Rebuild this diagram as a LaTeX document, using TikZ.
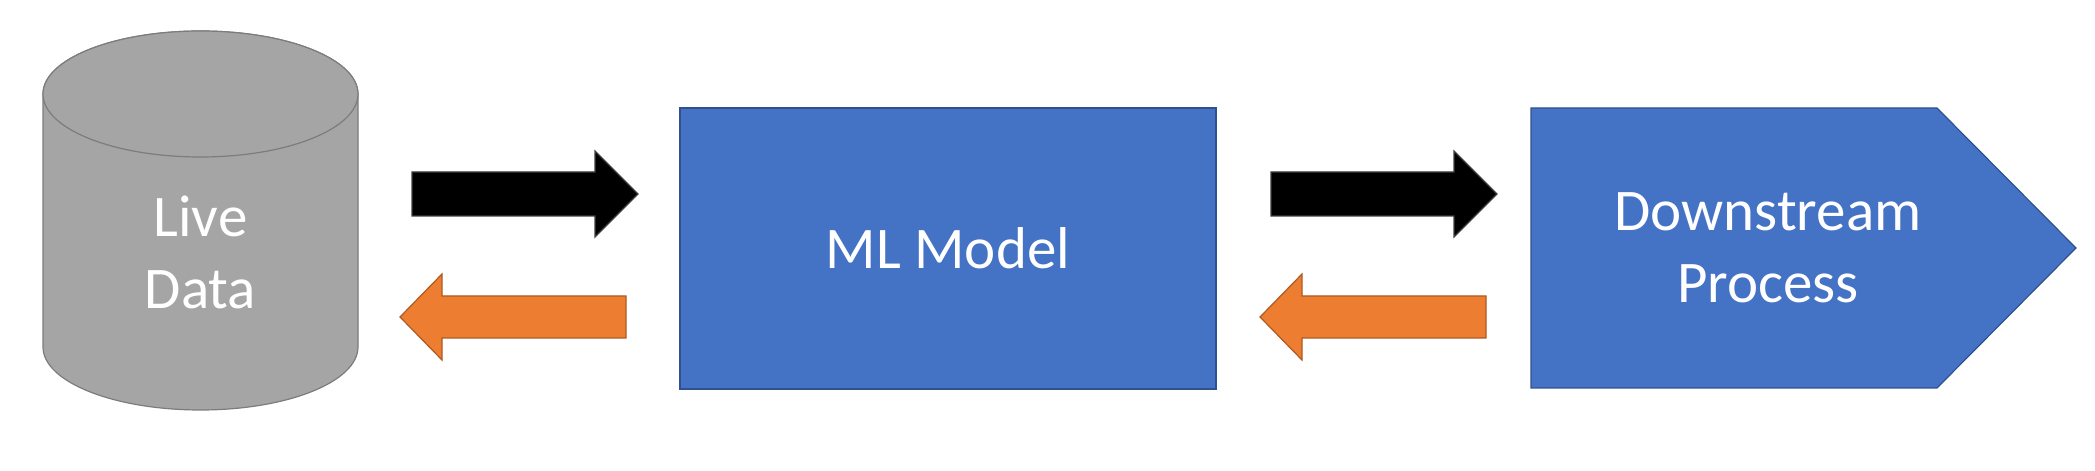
\documentclass[tikz,border=0pt]{standalone}
\usepackage{fontspec}
\setmainfont{Carlito}
\usetikzlibrary{positioning}
\definecolor{storefill}{HTML}{A5A5A5}
\definecolor{storeline}{HTML}{7C7C7C}
\definecolor{modelfill}{HTML}{4472C4}
\definecolor{modelline}{HTML}{2F528F}
\definecolor{backfill}{HTML}{ED7D31}
\definecolor{backline}{HTML}{AE5A21}

\begin{document}
\begin{tikzpicture}[
    x=0.5pt, y=0.5pt,
    boxtext/.style={text=white, font=\fontsize{29.5}{36}\selectfont, align=center},
    store/.style={draw=storeline, fill=storefill, line width=0.6pt},
    model/.style={draw=modelline, fill=modelfill, line width=0.6pt},
    fwd/.style={draw=black!75, fill=black, line width=0.6pt},
    back/.style={draw=backline, fill=backfill, line width=0.6pt}
  ]
  \useasboundingbox (0,0) rectangle (2095,471);
  % Live Data store
  \draw[store] (43,377) -- (43,124)
    arc[start angle=180, end angle=360, x radius=157.5, y radius=63]
    -- (358,377) arc[start angle=0, end angle=180, x radius=157.5, y radius=63] -- cycle;
  \draw[store] (200.5,377) ellipse[x radius=157.5, y radius=63];
  \node[boxtext] (data) at (200.5,218.5) {Live\\Data};
  % ML model
  \draw[model] (680,82) rectangle (1216,363);
  \node[boxtext] (ml) at (948,222.5) {ML Model};
  % downstream process
  \draw[model] (1531,83) -- (1531,363) -- (1937,363) -- (2076,223) -- (1937,83) -- cycle;
  \node[boxtext] (down) at (1768,223) {Downstream\\Process};
  % block arrows, data -> model -> process
  \draw[fwd] (412,255) -- ++(183,0) -- ++(0,-21) -- (638,277) -- (595,320) -- ++(0,-21) -- (412,299) -- cycle;
  \draw[fwd] (1271,255) -- ++(183,0) -- ++(0,-21) -- (1497,277) -- (1454,320) -- ++(0,-21) -- (1271,299) -- cycle;
  % block arrows back
  \draw[back] (626,133) -- ++(-184,0) -- ++(0,-22) -- (400,154) -- (442,197) -- ++(0,-22) -- (626,175) -- cycle;
  \draw[back] (1486,133) -- ++(-184,0) -- ++(0,-22) -- (1260,154) -- (1302,197) -- ++(0,-22) -- (1486,175) -- cycle;
\end{tikzpicture}
\end{document}
